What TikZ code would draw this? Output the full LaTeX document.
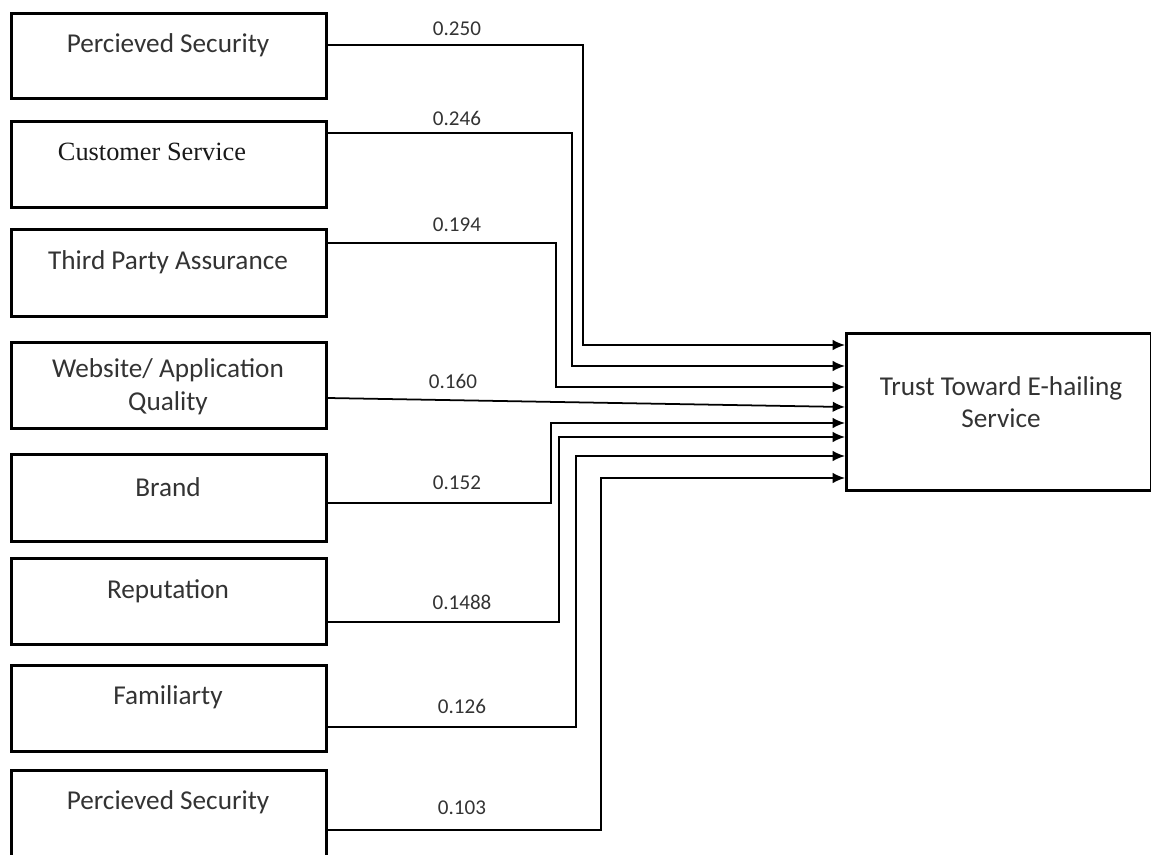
\documentclass[tikz,border=0pt]{standalone}
\usepackage{fontspec}
\setmainfont{Carlito}
\newfontfamily\timesfont{Liberation Serif}
\usetikzlibrary{arrows.meta}

\tikzset{
    factor/.style={draw, line width=1.6pt, minimum width=6.3cm, anchor=north west, inner sep=0pt},
    txt/.style={text=black!80, font=\fontsize{15.5}{18.6}\selectfont},
    coef/.style={text=black!80, font=\fontsize{12}{14}\selectfont},
    link/.style={line width=1pt, -{Latex[length=7pt,width=6pt]}}
}

\begin{document}
\begin{tikzpicture}[x=0.02cm, y=-0.02cm]
    % page is 1151 x 854 "pixels", y going down
    \useasboundingbox (0,0) rectangle (1151,854);

    % the eight boxes on the left
    \node [factor, minimum height=1.70cm] (b1) at (10,12) {};
    \node [factor, minimum height=1.72cm] (b2) at (10,120) {};
    \node [factor, minimum height=1.74cm] (b3) at (10,228) {};
    \node [factor, minimum height=1.72cm] (b4) at (10,341) {};
    \node [factor, minimum height=1.74cm] (b5) at (10,453) {};
    \node [factor, minimum height=1.72cm] (b6) at (10,557) {};
    \node [factor, minimum height=1.72cm] (b7) at (10,664) {};
    \node [factor, minimum height=2.02cm] (b8) at (10,769) {};

    % the one on the right
    \node [factor, minimum width=6.1cm, minimum height=3.14cm] (t) at (845,332) {};

    \node [txt] (l1) at (168,45) {Percieved Security};
    \node [txt, font=\timesfont\fontsize{15}{18}\selectfont, text=black!90] (l2) at (152,152) {Customer Service};
    \node [txt] (l3) at (168,262) {Third Party Assurance};
    \node [txt, align=center] (l4) at (168,387) {Website/ Application\\Quality};
    \node [txt] (l5) at (168,487) {Brand};
    \node [txt] (l6) at (168,591) {Reputation};
    \node [txt] (l7) at (168,697) {Familiarty};
    \node [txt] (l8) at (168,802) {Percieved Security};
    \node [txt, align=center] (lt) at (1001,402) {Trust Toward E-hailing\\Service};

    % the coefficients
    \node [coef] (v1) at (457,29) {0.250};
    \node [coef] (v2) at (457,118) {0.246};
    \node [coef] (v3) at (457,225) {0.194};
    \node [coef] (v4) at (453,381) {0.160};
    \node [coef] (v5) at (457,483) {0.152};
    \node [coef] (v6) at (462,602) {0.1488};
    \node [coef] (v7) at (462,706) {0.126};
    \node [coef] (v8) at (462,808) {0.103};

    % elbows, top ones go down, bottom ones go up
    \draw [link] (b1.east |- 0,45) -| (583,345) -- (t.west |- 0,345);
    \draw [link] (b2.east |- 0,133) -| (572,366) -- (t.west |- 0,366);
    \draw [link] (b3.east |- 0,243) -| (556,387) -- (t.west |- 0,387);
    \draw [link] (b4.east |- 0,398) -- (t.west |- 0,407);
    \draw [link] (b5.east |- 0,503) -| (551,423) -- (t.west |- 0,423);
    \draw [link] (b6.east |- 0,622) -| (559,437) -- (t.west |- 0,437);
    \draw [link] (b7.east |- 0,727) -| (576,456) -- (t.west |- 0,456);
    \draw [link] (b8.east |- 0,830) -| (601,478) -- (t.west |- 0,478);
\end{tikzpicture}
\end{document}
